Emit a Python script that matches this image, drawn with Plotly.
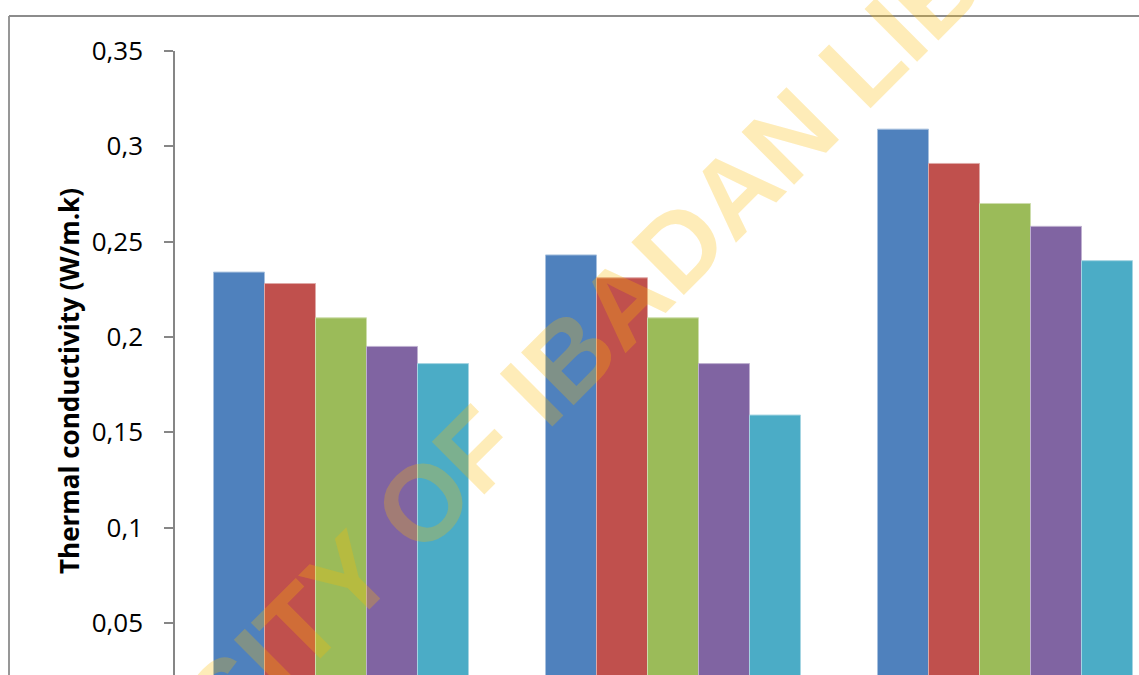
import plotly.graph_objects as go

# ---- data ----
categories = ["Group 1", "Group 2", "Group 3"]
series_names = ["Series 1", "Series 2", "Series 3", "Series 4", "Series 5"]
series_values = [
    [0.234, 0.243, 0.309],
    [0.228, 0.231, 0.291],
    [0.210, 0.210, 0.270],
    [0.195, 0.186, 0.258],
    [0.186, 0.159, 0.240],
]
series_colors = ["#4F81BD", "#C0504D", "#9BBB59", "#8064A2", "#4BACC6"]
edge_colors = ["#A7C0DE", "#DFA8A6", "#CDDDAC", "#BFB1D0", "#A5D5E2"]
tick_vals = [0.05, 0.10, 0.15, 0.20, 0.25, 0.30, 0.35]
tick_text = ["0,05", "0,1", "0,15", "0,2", "0,25", "0,3", "0,35"]
y_title = "Thermal conductivity (W/m.k)"
watermark = "UNIVERSITY OF IBADAN LIBRARY"

W, H = 1139, 675
L, T = 175, 51
plot_w, plot_h = W - L, H - T
cat_px = 332.0

fig = go.Figure()
for name, vals, col, ec in zip(series_names, series_values, series_colors, edge_colors):
    fig.add_trace(go.Bar(
        x=categories, y=vals, name=name,
        marker=dict(color=col, line=dict(color=ec, width=1)),
    ))

axis_grey = "#868686"
fig.update_layout(
    width=W, height=H,
    margin=dict(l=L, r=0, t=T, b=0, pad=0),
    paper_bgcolor="white", plot_bgcolor="white",
    barmode="group", bargap=0.232, bargroupgap=0,
    showlegend=False,
    font=dict(family="Open Sans", color="black"),
    xaxis=dict(
        range=[-0.5, -0.5 + plot_w / cat_px],
        showticklabels=False, showgrid=False, zeroline=False,
        showline=False, ticks="",
    ),
    yaxis=dict(
        range=[0.35 - plot_h / 1906.0, 0.35],
        tickvals=tick_vals, ticktext=tick_text,
        showgrid=False, zeroline=False,
        showline=True, linecolor=axis_grey, linewidth=1.5,
        ticks="outside", ticklen=9, tickwidth=1.5, tickcolor=axis_grey,
        tickfont=dict(family="Open Sans", size=26, color="black"),
        ticklabelstandoff=16,
    ),
)

# outer chart border (top and left edges visible)
bx = (9 - L) / plot_w
by = 1 + (T - 16) / plot_h
fig.add_shape(type="line", xref="paper", yref="paper",
              x0=bx, x1=bx, y0=-0.2, y1=by,
              line=dict(color="#8C8C8C", width=1.8))
fig.add_shape(type="line", xref="paper", yref="paper",
              x0=bx, x1=1.2, y0=by, y1=by,
              line=dict(color="#8C8C8C", width=1.8))

# y axis title
fig.add_annotation(
    text="<b>" + y_title + "</b>", xref="paper", yref="paper",
    x=(69 - L) / plot_w, y=(H - 381) / plot_h,
    xanchor="center", yanchor="middle", showarrow=False, textangle=-90,
    font=dict(family="Open Sans", size=26, color="black"),
)

# watermark
fig.add_annotation(
    text="<b>" + watermark + "</b>", xref="paper", yref="paper",
    x=(545 - L) / plot_w, y=(H - 380) / plot_h,
    xanchor="center", yanchor="middle", showarrow=False, textangle=-45,
    font=dict(family="Liberation Sans", size=108, color="rgba(250,185,0,0.28)"),
)

fig.write_html(
    "out.html",
    config={"displayModeBar": False},
    post_script="document.body.style.margin='0';document.body.style.overflow='hidden';",
)
